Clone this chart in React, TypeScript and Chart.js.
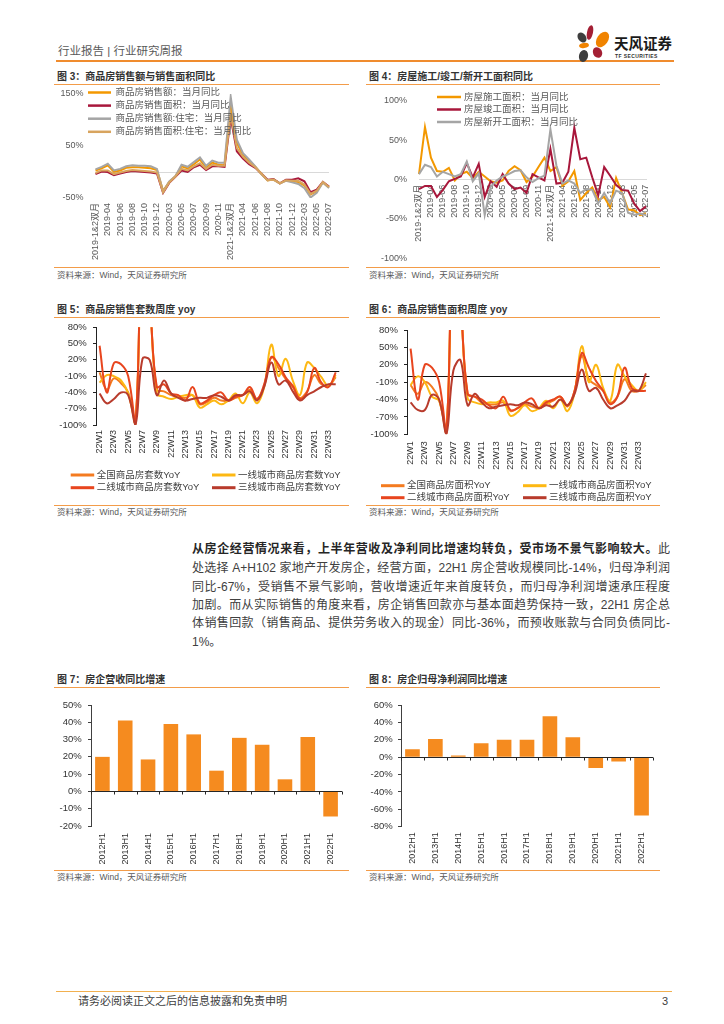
import React, { useEffect, useRef } from "react";
import { Chart, registerables } from "chart.js";

Chart.register(...registerables);

const FONT = '"Liberation Sans", "Noto Sans CJK SC", "Noto Sans", sans-serif';

// ---------------- data ----------------
const monthLabels = [
  "2019-1&2双月", "2019-03", "2019-04", "2019-05", "2019-06", "2019-07", "2019-08", "2019-09", "2019-10", "2019-11", "2019-12",
  "2020-1&2双月", "2020-03", "2020-04", "2020-05", "2020-06", "2020-07", "2020-08", "2020-09", "2020-10", "2020-11", "2020-12",
  "2021-1&2双月", "2021-03", "2021-04", "2021-05", "2021-06", "2021-07", "2021-08", "2021-09", "2021-10", "2021-11", "2021-12",
  "2022-1&2双月", "2022-03", "2022-04", "2022-05", "2022-06", "2022-07",
];
const salesAmountYoY = [3, 7, 13, 0, 3, 8, 9, 9, 8, 7, 4, -36, -19, -8, 11, 7, 15, 24, 9, 18, 14, 13, 126, 56, 33, 21, 10, -4, -16, -14, -22, -16, -18, -19, -26, -43, -37, -20, -30];
const salesAreaYoY = [-4, 1, 0, -6, -3, 0, 2, 1, 0, -1, -3, -40, -21, -9, 3, 0, 9, 14, 4, 11, 11, 10, 104, 40, 26, 15, 8, -3, -15, -14, -22, -15, -15, -12, -18, -39, -34, -19, -28];
const resSalesAmountYoY = [5, 10, 16, 3, 6, 11, 13, 12, 12, 11, 6, -38, -18, -8, 14, 10, 19, 28, 12, 22, 18, 18, 145, 62, 36, 24, 11, -4, -16, -15, -22, -17, -20, -23, -31, -49, -40, -20, -31];
const resSalesAreaYoY = [-2, 3, 3, -4, -1, 2, 4, 3, 2, 1, -1, -39, -20, -9, 6, 3, 11, 17, 6, 14, 12, 12, 110, 46, 29, 18, 9, -3, -16, -15, -22, -16, -17, -17, -24, -42, -36, -19, -29];

const constructionYoY = [7, 67, 28, 11, 10, 15, -1, 7, 10, 2, 10, 4, -2, -4, -1, 11, 17, 12, -3, 4, 16, 28, 11, 16, -8, -2, 11, -26, -17, -10, -26, -22, -35, 2, -17, -38, -39, -45, -43];
const completionYoY = [-12, -8, -8, -22, -13, -2, 1, 4, 21, 3, 20, -22, -2, -9, 7, -5, -12, -10, -17, 7, 3, -1, 39, -5, -4, 10, 66, 26, 28, 3, -20, 16, 5, -7, -13, -14, -30, -40, -34];
const newStartYoY = [7, 19, 16, 4, 10, 7, 4, 7, 23, -2, 8, -45, -9, -1, 4, 7, 11, 12, 3, -3, 2, 5, 64, 18, -5, -1, -5, -17, -12, -13, -30, -17, -30, -14, -17, -42, -45, -43, -45];

const weekLabels = [
  "22W1", "22W2", "22W3", "22W4", "22W5", "22W6", "22W7", "22W8", "22W9", "22W10", "22W11", "22W12",
  "22W13", "22W14", "22W15", "22W16", "22W17", "22W18", "22W19", "22W20", "22W21", "22W22", "22W23",
  "22W24", "22W25", "22W26", "22W27", "22W28", "22W29", "22W30", "22W31", "22W32", "22W33", "22W34",
];
const unitsNational = [-3, -35, -14, -23, -40, -98, 250, 130, -35, -38, -45, -48, -50, -45, -62, -58, -50, -55, -55, -50, -45, -35, -52, -28, 25, 5, -15, -30, -50, -38, -8, -25, -28, -12];
const unitsTier1 = [-22, -8, -10, -18, -42, -98, 250, 130, -42, -48, -52, -48, -45, -45, -68, -62, -55, -62, -55, -42, -60, -40, -60, -30, 48, -10, 22, -18, -45, 15, 5, -12, -28, -8];
const unitsTier2 = [46, -40, 14, 12, -10, -98, 250, 130, -30, -25, -42, -45, -55, -30, -60, -55, -45, -40, -55, -48, -45, -30, -52, -25, 25, 12, -12, -28, -52, -40, 5, -22, -30, -3];
const unitsTier3 = [-42, -60, -52, -40, -45, -100, 22, 20, -45, -18, -42, -50, -55, -52, -50, -50, -45, -48, -55, -45, -45, -38, -55, -30, 15, -25, -18, -38, -55, -45, -38, -30, -25, -25];

const areaNational = [-15, -30, -10, -18, -40, -98, 250, 130, -30, -35, -45, -48, -48, -45, -60, -55, -48, -52, -55, -48, -42, -35, -52, -25, 35, -5, -15, -25, -45, -35, -5, -25, -25, -15];
const areaTier1 = [-15, 0, -10, -35, -42, -98, 250, 130, -38, -45, -48, -45, -45, -42, -68, -62, -50, -60, -55, -42, -55, -40, -60, -28, 52, -10, 20, -20, -42, 20, 0, -15, -25, -10];
const areaTier2 = [48, -40, 20, 15, -10, -98, 250, 130, -30, -35, -40, -50, -55, -35, -58, -55, -45, -38, -55, -45, -40, -35, -50, -25, 40, 15, -8, -25, -48, -35, 15, -20, -25, -25];
const areaTier3 = [-45, -58, -58, -32, -40, -100, 10, 28, -50, -30, -45, -55, -52, -50, -48, -50, -45, -48, -55, -50, -52, -40, -50, -30, 12, -25, -20, -40, -55, -50, -42, -25, -25, 5];

const halfYears = ["2012H1", "2013H1", "2014H1", "2015H1", "2016H1", "2017H1", "2018H1", "2019H1", "2020H1", "2021H1", "2022H1"];
const revenueGrowth = [20, 41, 18.5, 39, 33, 12, 31, 27, 7, 31.5, -14.5];
const netProfitGrowth = [9, 21, 2, 16, 20, 20, 47, 23, -12.5, -5, -67];

// ---------------- helpers ----------------
const C_ORANGE = "#F39800";
const C_CRIMSON = "#A8173B";
const C_GRAY = "#A5A5A5";
const C_TAN = "#D8A45E";
const W_NAT = "#F47B20";
const W_T1 = "#FDB813";
const W_T2 = "#E8451E";
const W_T3 = "#B83B2C";
const BAR = "#F58B1F";

const pct = (v: any) => v + "%";
const fitW = (w: number) => (s: any) => {
  s.width = w;
  s.paddingTop = 0; s.paddingBottom = 0; s.paddingLeft = 0; s.paddingRight = 0;
};
const fitH = (h: number) => (s: any) => {
  s.height = h;
  s.paddingTop = 0; s.paddingBottom = 0; s.paddingLeft = 0; s.paddingRight = 0;
};
const f = (size: number) => ({ family: FONT, size });

type LegendItem = { text: string; color: string; x: number; y: number };
function legendPlugin(items: LegendItem[], o: { len: number; gap: number; size: number; color: string; lw: number }) {
  return {
    id: "customLegend",
    afterDatasetsDraw(chart: any) {
      const ctx = chart.ctx;
      ctx.save();
      ctx.font = `${o.size}px ${FONT}`;
      ctx.textBaseline = "middle";
      ctx.textAlign = "left";
      for (const it of items) {
        ctx.strokeStyle = it.color;
        ctx.lineWidth = o.lw;
        ctx.beginPath();
        ctx.moveTo(it.x, it.y);
        ctx.lineTo(it.x + o.len, it.y);
        ctx.stroke();
        ctx.fillStyle = o.color;
        ctx.fillText(it.text, it.x + o.len + o.gap, it.y);
      }
      ctx.restore();
    },
  };
}

function zeroLine(color: string, after: boolean, tickLen = 0) {
  const draw = (chart: any) => {
    const { ctx, chartArea } = chart;
    const y = Math.round(chart.scales.y.getPixelForValue(0)) + 0.5;
    ctx.save();
    ctx.strokeStyle = color;
    ctx.lineWidth = 1;
    ctx.beginPath();
    ctx.moveTo(chartArea.left, y);
    ctx.lineTo(chartArea.right, y);
    if (tickLen) {
      const n = chart.data.labels.length;
      for (let i = 0; i <= n; i++) {
        const x = Math.round(chartArea.left + ((chartArea.right - chartArea.left) * i) / n) + 0.5;
        ctx.moveTo(x, y);
        ctx.lineTo(x, y + tickLen);
      }
    }
    ctx.stroke();
    ctx.restore();
  };
  return after ? { id: "zeroLine", afterDatasetsDraw: draw } : { id: "zeroLine", beforeDatasetsDraw: draw };
}

const baseOptions = (padding: any) => ({
  responsive: false,
  animation: false,
  devicePixelRatio: 1,
  events: [],
  layout: { padding },
  plugins: { legend: { display: false }, tooltip: { enabled: false }, title: { display: false } },
});

function lineSets(series: { label: string; data: number[]; color: string }[], width: number, tension: number) {
  return series.map((s, i) => ({
    label: s.label,
    data: s.data,
    borderColor: s.color,
    backgroundColor: s.color,
    borderWidth: width,
    pointRadius: 0,
    tension,
    fill: false,
    order: series.length - i,
  }));
}

// ---------------- chart configs ----------------
function makeChart3(): any {
  const series = [
    { label: "商品房销售额：当月同比", data: salesAmountYoY, color: C_ORANGE },
    { label: "商品房销售面积：当月同比", data: salesAreaYoY, color: C_CRIMSON },
    { label: "商品房销售额:住宅：当月同比", data: resSalesAmountYoY, color: C_GRAY },
    { label: "商品房销售面积:住宅：当月同比", data: resSalesAreaYoY, color: C_TAN },
  ];
  return {
    type: "line",
    data: { labels: monthLabels, datasets: lineSets(series, 2, 0) },
    options: {
      ...baseOptions({ top: 8, right: 21, bottom: 0, left: 0 }),
      scales: {
        x: {
          type: "category", offset: false,
          grid: { display: false, drawTicks: false }, border: { display: false },
          ticks: { autoSkip: false, maxRotation: 90, minRotation: 90, padding: 5, color: "#595959", font: f(9),
            callback: (_v: any, i: number) => (i % 2 === 0 ? monthLabels[i] : "") },
          afterFit: fitH(69),
        },
        y: {
          min: -50, max: 150,
          grid: { display: false, drawTicks: false }, border: { display: false },
          ticks: { stepSize: 100, padding: 12, color: "#595959", font: f(9), callback: pct },
          afterFit: fitW(39.5),
        },
      },
    },
    plugins: [
      zeroLine("#D9D9D9", false),
      legendPlugin(series.map((s, i) => ({ text: s.label, color: s.color, x: 32, y: 6.5 + i * 13.1 })),
        { len: 23, gap: 4.5, size: 9.5, color: "#595959", lw: 2.5 }),
    ],
  };
}

function makeChart4(): any {
  const series = [
    { label: "房屋施工面积：当月同比", data: constructionYoY, color: C_ORANGE },
    { label: "房屋竣工面积：当月同比", data: completionYoY, color: C_CRIMSON },
    { label: "房屋新开工面积：当月同比", data: newStartYoY, color: C_GRAY },
  ];
  return {
    type: "line",
    data: { labels: monthLabels, datasets: lineSets(series, 2, 0) },
    options: {
      ...baseOptions({ top: 15, right: 14, bottom: 8.7, left: 0 }),
      scales: {
        x: {
          type: "category", offset: false, position: { y: 0 },
          grid: { display: false, drawTicks: false }, border: { display: true, color: "#D9D9D9", width: 1 },
          ticks: { autoSkip: false, maxRotation: 90, minRotation: 90, padding: 5, color: "#595959", font: f(9),
            callback: (_v: any, i: number) => (i % 2 === 0 ? monthLabels[i] : "") },
          afterFit: (s: any) => { s.paddingLeft = 0; s.paddingRight = 0; },
        },
        y: {
          min: -100, max: 100,
          grid: { display: false, drawTicks: false }, border: { display: false },
          ticks: { stepSize: 50, padding: 12, color: "#595959", font: f(9), callback: pct },
          afterFit: fitW(51),
        },
      },
    },
    plugins: [
      legendPlugin(series.map((s, i) => ({ text: s.label, color: s.color, x: 69, y: 11 + i * 12.5 })),
        { len: 24, gap: 3, size: 9.5, color: "#595959", lw: 2.5 }),
    ],
  };
}

function weeklyConfig(series: { label: string; data: number[]; color: string }[], p: any): any {
  return {
    type: "line",
    data: { labels: weekLabels, datasets: lineSets(series, 2, 0.4) },
    options: {
      ...baseOptions({ top: p.top, right: p.right, bottom: 0, left: 0 }),
      scales: {
        x: {
          type: "category", offset: true,
          grid: { display: false, drawTicks: false }, border: { display: false },
          ticks: { autoSkip: false, maxRotation: 90, minRotation: 90, padding: p.xpad, color: "#333", font: f(9),
            callback: (_v: any, i: number) => (i % 2 === 0 ? weekLabels[i] : "") },
          afterFit: fitH(p.xh),
        },
        y: {
          min: -100, max: 80,
          grid: { display: true, drawOnChartArea: false, drawTicks: true, tickLength: 3, color: "#222", lineWidth: 1 },
          border: { display: true, color: "#222", width: 1 },
          ticks: { stepSize: 30, padding: p.ypad, color: "#333", font: f(9.5), callback: pct },
          afterFit: fitW(p.yw),
        },
      },
    },
    plugins: [
      zeroLine("#111", false),
      legendPlugin([
        { text: series[0].label, color: series[0].color, x: p.c1, y: p.r1 },
        { text: series[1].label, color: series[1].color, x: p.c2, y: p.r1 },
        { text: series[2].label, color: series[2].color, x: p.c1, y: p.r2 },
        { text: series[3].label, color: series[3].color, x: p.c2, y: p.r2 },
      ], { len: 23.5, gap: 2.5, size: 9.5, color: "#404040", lw: 3 }),
    ],
  };
}

function makeChart5(): any {
  return weeklyConfig([
    { label: "全国商品房套数YoY", data: unitsNational, color: W_NAT },
    { label: "一线城市商品房套数YoY", data: unitsTier1, color: W_T1 },
    { label: "二线城市商品房套数YoY", data: unitsTier2, color: W_T2 },
    { label: "三线城市商品房套数YoY", data: unitsTier3, color: W_T3 },
  ], { top: 7.3, right: 10.7, xh: 80, xpad: 5, yw: 40, ypad: 6.3, c1: 14.7, c2: 156, r1: 155, r2: 167.7 });
}

function makeChart6(): any {
  return weeklyConfig([
    { label: "全国商品房面积YoY", data: areaNational, color: W_NAT },
    { label: "一线城市商品房面积YoY", data: areaTier1, color: W_T1 },
    { label: "二线城市商品房面积YoY", data: areaTier2, color: W_T2 },
    { label: "三线城市商品房面积YoY", data: areaTier3, color: W_T3 },
  ], { top: 10, right: 10.5, xh: 70.7, xpad: 7, yw: 39, ypad: 6, c1: 13, c2: 155, r1: 165.7, r2: 177.7 });
}

function barConfig(data: number[], p: any): any {
  return {
    type: "bar",
    data: {
      labels: halfYears,
      datasets: [{ label: p.label, data, backgroundColor: BAR, borderWidth: 0, barPercentage: 0.64, categoryPercentage: 1 }],
    },
    options: {
      ...baseOptions({ top: 15, right: p.right, bottom: 0, left: 0 }),
      scales: {
        x: {
          type: "category", offset: true,
          grid: { display: false, drawTicks: false }, border: { display: false },
          ticks: { autoSkip: false, maxRotation: 90, minRotation: 90, padding: p.xpad, color: "#333", font: f(9) },
          afterFit: fitH(p.xh),
        },
        y: {
          min: p.min, max: p.max,
          grid: { display: true, drawOnChartArea: false, drawTicks: true, tickLength: 3, color: "#404040", lineWidth: 1 },
          border: { display: true, color: "#404040", width: 1 },
          ticks: { stepSize: p.step, padding: p.ypad, color: "#333", font: f(9.5), callback: pct },
          afterFit: fitW(p.yw),
        },
      },
    },
    plugins: [zeroLine("#262626", true, 3)],
  };
}

function makeChart7(): any {
  return barConfig(revenueGrowth, { label: "房企营收同比增速", right: 8, xh: 44, xpad: 7, yw: 35, ypad: 6.3, min: -20, max: 50, step: 10 });
}
function makeChart8(): any {
  return barConfig(netProfitGrowth, { label: "房企归母净利润同比增速", right: 7, xh: 43.3, xpad: 5.5, yw: 33, ypad: 5.3, min: -80, max: 60, step: 20 });
}

// ---------------- components ----------------
function ChartCanvas({ left, top, width, height, make }: { left: number; top: number; width: number; height: number; make: () => any }) {
  const ref = useRef<HTMLCanvasElement | null>(null);
  useEffect(() => {
    if (!ref.current) return;
    const chart = new Chart(ref.current, make());
    return () => chart.destroy();
  }, [make]);
  return <canvas ref={ref} width={width} height={height} style={{ position: "absolute", left, top, width, height }} />;
}

function Txt({ x, y, h, size, color, bold, children }: any) {
  return (
    <div style={{ position: "absolute", left: x, top: y - h / 2, height: h, lineHeight: `${h}px`, fontSize: size, color, fontWeight: bold ? 700 : 400, whiteSpace: "nowrap" }}>
      {children}
    </div>
  );
}

const RULE = "#F39C49";
function Rule({ x, y, w, h = 1, c = RULE }: any) {
  return <div style={{ position: "absolute", left: x, top: y, width: w, height: h, background: c }} />;
}

function Panel({ x, w, titleY, ruleY, srcRuleY, srcY, title }: any) {
  return (
    <>
      <Txt x={x + 3} y={titleY} h={14} size={10} color="#333" bold>{title}</Txt>
      <Rule x={x} y={ruleY} w={w} />
      <Rule x={x} y={srcRuleY} w={w} />
      <Txt x={x + 3} y={srcY} h={12} size={8.5} color="#595959">资料来源：Wind，天风证券研究所</Txt>
    </>
  );
}

const petals = [
  { x: 587, y: 25, w: 6, h: 15, r: 12, c: "#A31F34" },
  { x: 597, y: 31, w: 11, h: 17, r: 35, c: "#F08300" },
  { x: 578, y: 32, w: 8, h: 11, r: -35, c: "#3D3D3D" },
  { x: 579, y: 43, w: 10, h: 5, r: -10, c: "#F08300" },
  { x: 593, y: 47, w: 9, h: 11, r: -25, c: "#A31F34" },
  { x: 579, y: 50, w: 9, h: 12, r: 15, c: "#3D3D3D" },
];

const paraLines = [
  "处选择 A+H102 家地产开发房企，经营方面，22H1 房企营收规模同比-14%，归母净利润",
  "同比-67%，受销售不景气影响，营收增速近年来首度转负，而归母净利润增速承压程度",
  "加剧。而从实际销售的角度来看，房企销售回款亦与基本面趋势保持一致，22H1 房企总",
  "体销售回款（销售商品、提供劳务收入的现金）同比-36%，而预收账款与合同负债同比-",
];

export default function App() {
  const lineStyle = (top: number, justify: boolean): React.CSSProperties => ({
    position: "absolute", left: 192, top, width: 478, height: 18, lineHeight: "18px", fontSize: 12, color: "#404040",
    textAlign: justify ? "justify" : "left", textAlignLast: justify ? "justify" : "left", overflow: "hidden",
  });
  const paraCenters = [549, 568, 586.7, 605, 623.3, 642.3];
  return (
    <div style={{ position: "absolute", left: 0, top: 0, width: 724, height: 1024, background: "#fff", overflow: "hidden", fontFamily: FONT }}>
      {/* header */}
      <Txt x={58} y={51} h={16} size={11.5} color="#595959">行业报告 | 行业研究周报</Txt>
      <Rule x={56} y={60} w={618} h={2} c="#F08C2E" />
      {petals.map((p, i) => (
        <div key={i} style={{ position: "absolute", left: p.x, top: p.y, width: p.w, height: p.h, background: p.c, borderRadius: "50%", transform: `rotate(${p.r}deg)` }} />
      ))}
      <div style={{ position: "absolute", left: 614, top: 35, height: 18, lineHeight: "18px", fontSize: 14.5, fontWeight: 700, color: "#1a1a1a", whiteSpace: "nowrap" }}>天风证券</div>
      <div style={{ position: "absolute", left: 615, top: 53, height: 7, lineHeight: "7px", fontSize: 5, fontWeight: 700, letterSpacing: 0.4, color: "#333", whiteSpace: "nowrap" }}>TF SECURITIES</div>

      {/* row 1 */}
      <Panel x={54} w={295} titleY={77} ruleY={84} srcRuleY={267} srcY={275} title="图 3：商品房销售额与销售面积同比" />
      <Panel x={366} w={294} titleY={77} ruleY={84} srcRuleY={267} srcY={275} title="图 4：房屋施工/竣工/新开工面积同比" />
      <ChartCanvas left={56} top={86} width={294} height={181} make={makeChart3} />
      <ChartCanvas left={368} top={86} width={292} height={181} make={makeChart4} />

      {/* row 2 */}
      <Panel x={54} w={295} titleY={310} ruleY={317} srcRuleY={505} srcY={512.3} title="图 5：商品房销售套数周度 yoy" />
      <Panel x={366} w={294} titleY={310} ruleY={317} srcRuleY={505} srcY={512.3} title="图 6：商品房销售面积周度 yoy" />
      <ChartCanvas left={56} top={320} width={294} height={185} make={makeChart5} />
      <ChartCanvas left={368} top={320} width={292} height={185} make={makeChart6} />

      {/* paragraph */}
      <div style={lineStyle(paraCenters[0] - 9, true)}>
        <span style={{ fontWeight: 700, color: "#262626" }}>从房企经营情况来看，上半年营收及净利同比增速均转负，受市场不景气影响较大。</span>此
      </div>
      {paraLines.map((t, i) => (
        <div key={i} style={lineStyle(paraCenters[i + 1] - 9, true)}>{t}</div>
      ))}
      <div style={lineStyle(paraCenters[5] - 9, false)}>1%。</div>

      {/* row 3 */}
      <Panel x={54} w={295} titleY={680} ruleY={687} srcRuleY={870} srcY={877} title="图 7：房企营收同比增速" />
      <Panel x={366} w={294} titleY={680} ruleY={687} srcRuleY={870} srcY={877} title="图 8：房企归母净利润同比增速" />
      <ChartCanvas left={56} top={690} width={294} height={180} make={makeChart7} />
      <ChartCanvas left={368} top={690} width={292} height={180} make={makeChart8} />

      {/* footer */}
      <Rule x={56} y={991} w={616} h={1} c="#F2B04F" />
      <Txt x={78} y={1001} h={14} size={11} color="#404040">请务必阅读正文之后的信息披露和免责申明</Txt>
      <Txt x={662} y={1001} h={14} size={11} color="#404040">3</Txt>
    </div>
  );
}
